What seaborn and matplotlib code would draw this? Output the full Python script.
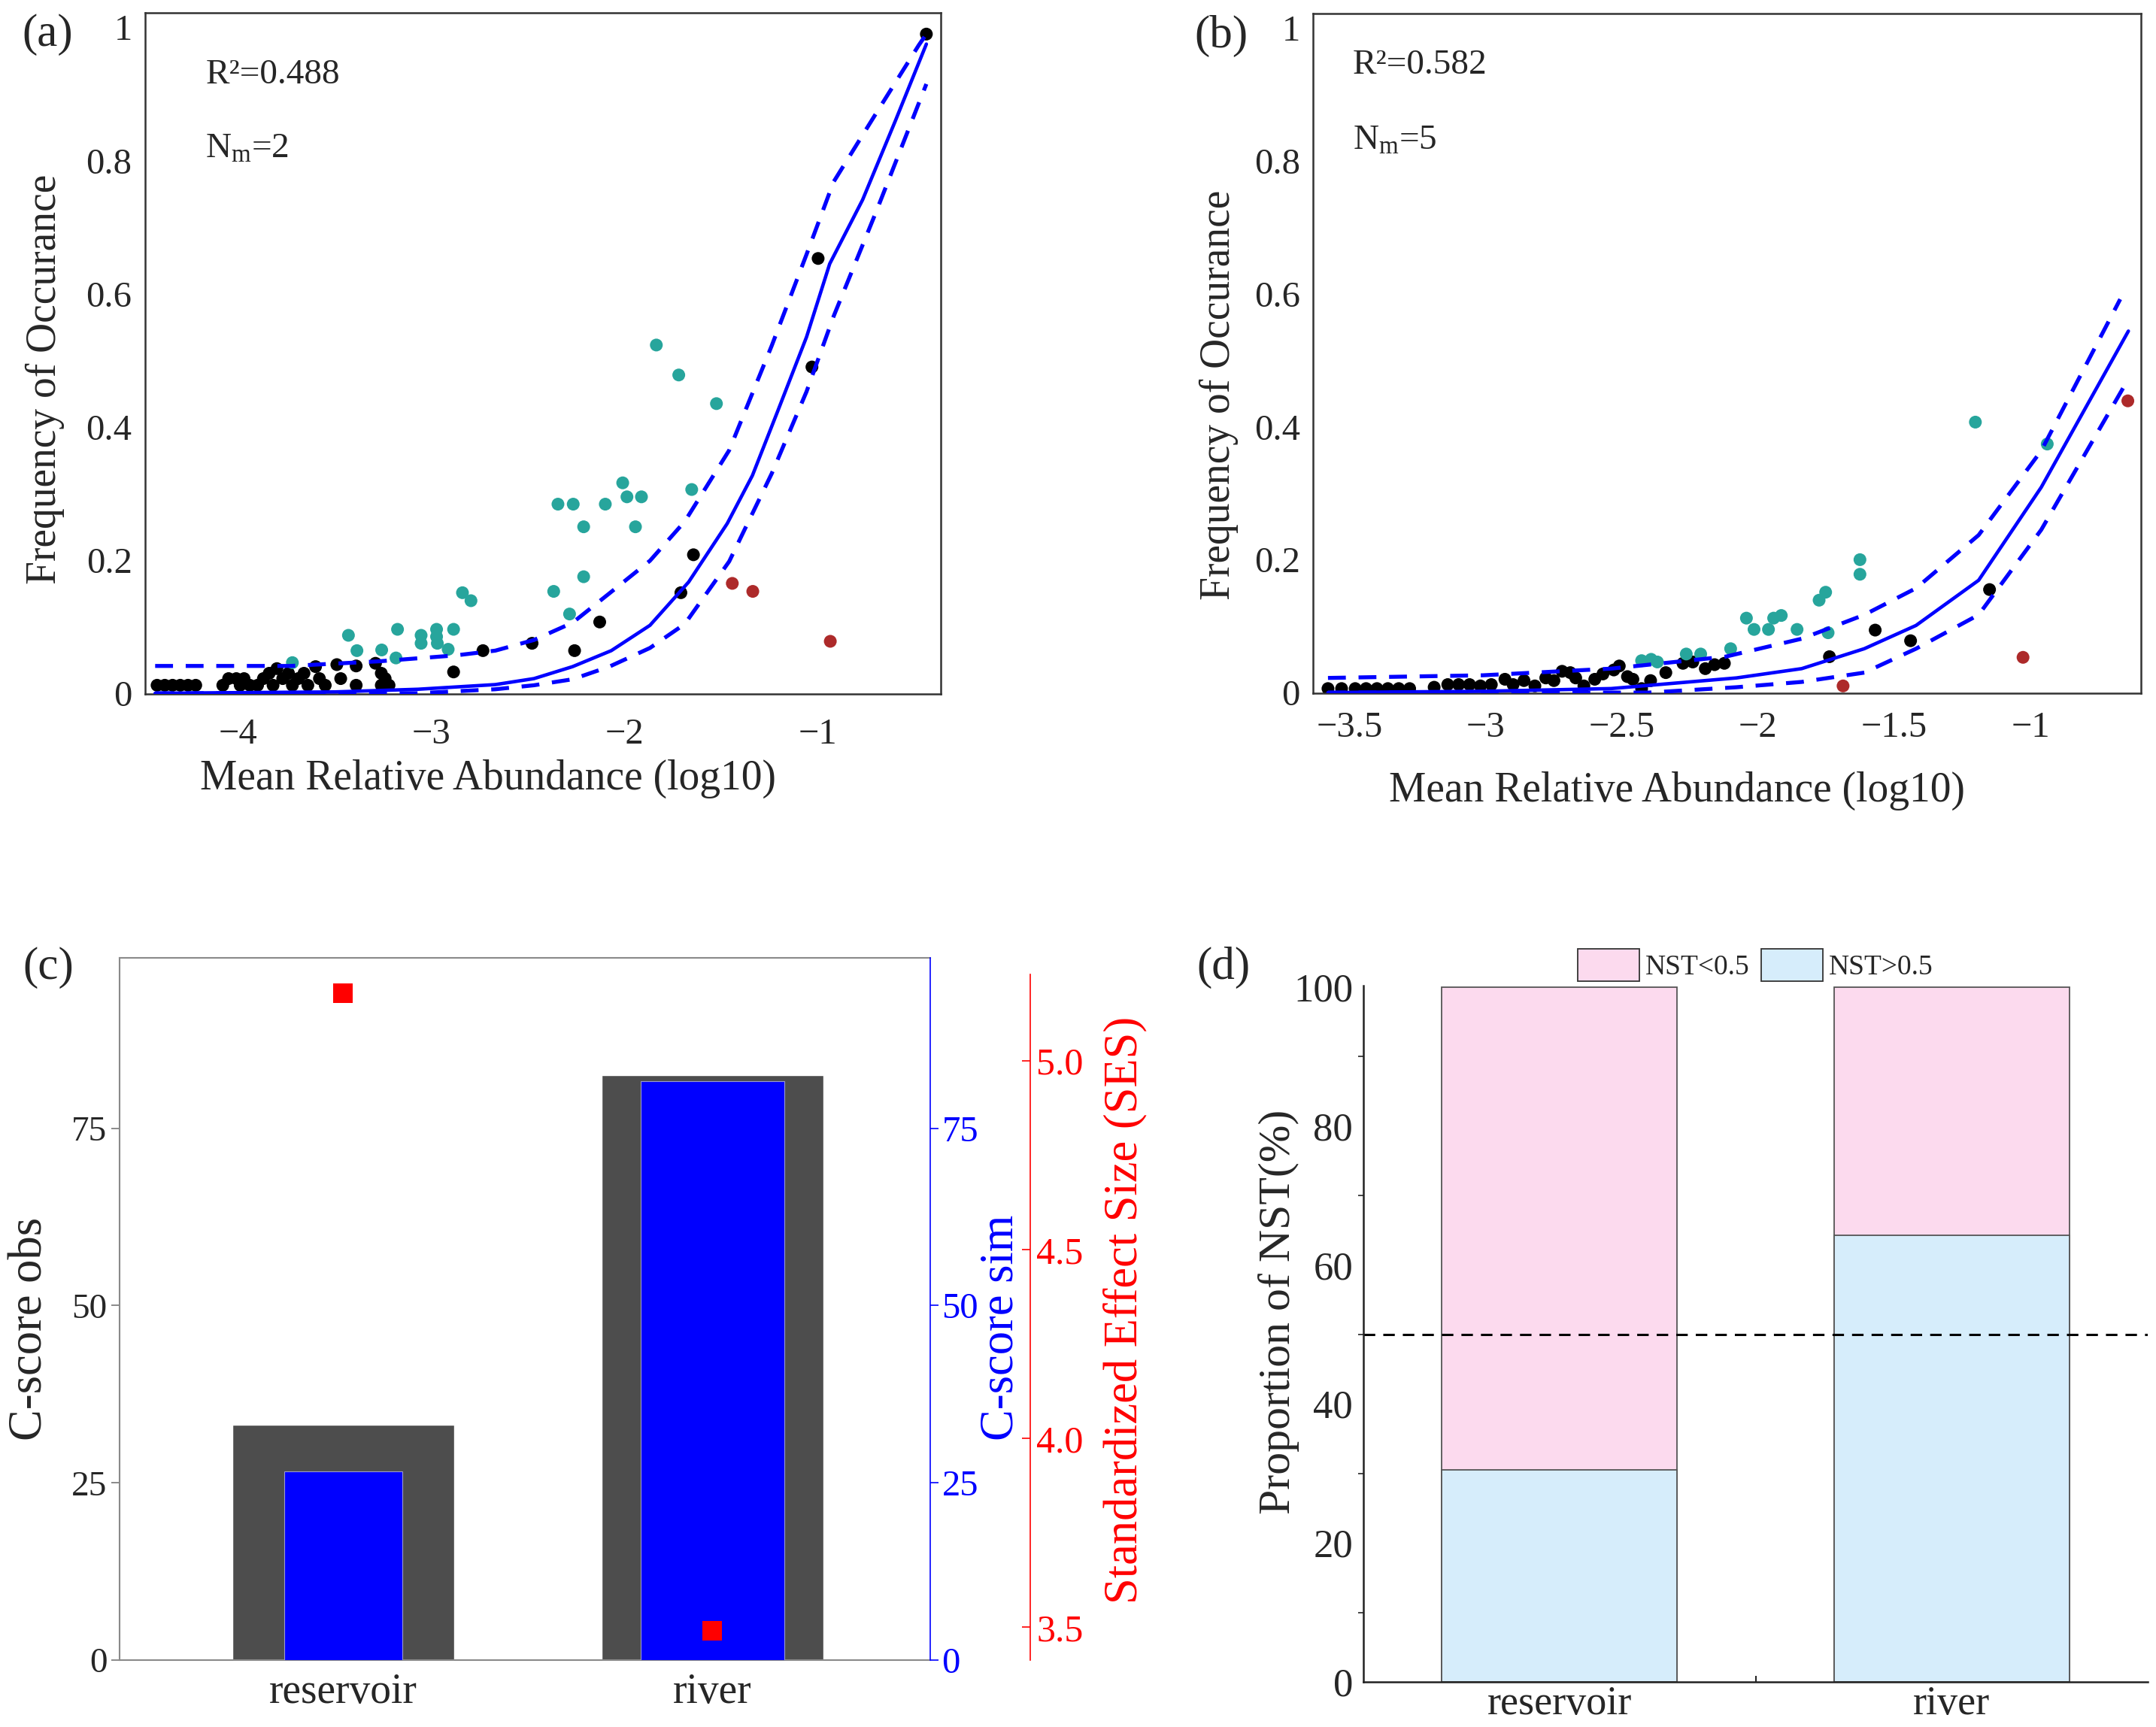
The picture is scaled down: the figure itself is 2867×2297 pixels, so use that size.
import matplotlib
matplotlib.use("Agg")
from matplotlib import pyplot as plt
from matplotlib.patches import Patch
from matplotlib.ticker import FuncFormatter, MultipleLocator
import numpy as np
import pandas as pd
import seaborn as sns

# ---- panel (a): reservoir neutral model ----
a_black_x = [-4.42, -4.38, -4.34, -4.30, -4.26, -4.22, -4.08, -4.05, -4.01, -3.97, -3.99, -3.94,
             -3.90, -3.87, -3.84, -3.82, -3.80, -3.77, -3.74, -3.72, -3.69, -3.66, -3.64,
             -3.60, -3.58, -3.55, -3.49, -3.47, -3.39, -3.39, -3.29, -3.26, -3.24, -3.26, -3.22,
             -2.886, -2.734, -2.48, -2.26, -2.13, -1.71, -1.645, -1.032, -1.0, -0.44]
a_black_y = [0.012, 0.012, 0.012, 0.012, 0.012, 0.012, 0.012, 0.022, 0.022, 0.022, 0.012, 0.012,
             0.012, 0.022, 0.030, 0.012, 0.037, 0.022, 0.030, 0.012, 0.022, 0.030, 0.012,
             0.040, 0.022, 0.012, 0.043, 0.022, 0.041, 0.012, 0.045, 0.030, 0.022, 0.012, 0.012,
             0.032, 0.064, 0.075, 0.064, 0.107, 0.151, 0.208, 0.490, 0.653, 0.990]
a_teal_x = [-3.72, -3.43, -3.386, -3.258, -3.176, -3.184, -3.054, -3.054, -2.974, -2.974, -2.97,
            -2.886, -2.914, -2.84, -2.796, -2.368, -2.286, -2.213, -2.346, -2.267, -2.213, -2.101,
            -2.011, -1.989, -1.914, -1.945, -1.654, -1.837, -1.721, -1.526]
a_teal_y = [0.046, 0.087, 0.064, 0.065, 0.096, 0.053, 0.087, 0.075, 0.096, 0.085, 0.075,
            0.096, 0.066, 0.151, 0.139, 0.153, 0.119, 0.175, 0.284, 0.284, 0.250, 0.284,
            0.316, 0.295, 0.295, 0.250, 0.306, 0.523, 0.478, 0.435]
a_red_x = [-1.444, -1.338, -0.937]
a_red_y = [0.165, 0.153, 0.078]

a_fit_x = [-4.43, -3.5, -3.07, -2.67, -2.47, -2.27, -2.07, -1.87, -1.67, -1.47, -1.34, -1.21,
           -1.06, -0.94, -0.77, -0.60, -0.44]
a_fit_y = [0.0, 0.002, 0.006, 0.013, 0.022, 0.040, 0.064, 0.102, 0.167, 0.255, 0.327, 0.423,
           0.535, 0.645, 0.741, 0.860, 0.975]
a_upper_x = [-4.43, -3.73, -3.27, -2.87, -2.67, -2.47, -2.27, -2.08, -1.87, -1.69, -1.46, -1.24,
             -1.06, -0.92, -0.70, -0.48, -0.44]
a_upper_y = [0.041, 0.041, 0.048, 0.057, 0.064, 0.080, 0.106, 0.150, 0.199, 0.258, 0.365, 0.522,
             0.659, 0.768, 0.871, 0.973, 0.990]
a_lower_x = [-4.43, -3.07, -2.87, -2.67, -2.47, -2.27, -2.08, -1.87, -1.69, -1.46, -1.24, -1.06,
             -0.92, -0.70, -0.44]
a_lower_y = [0.0, 0.0, 0.003, 0.006, 0.012, 0.021, 0.040, 0.068, 0.104, 0.198, 0.330, 0.453,
             0.566, 0.723, 0.915]

# ---- panel (b): river neutral model ----
b_black_x = [-3.58, -3.53, -3.48, -3.44, -3.40, -3.36, -3.32, -3.28, -3.19, -3.14, -3.10, -3.06,
             -3.02, -2.98, -2.93, -2.90, -2.86, -2.82, -2.78, -2.75, -2.72, -2.69, -2.67, -2.64,
             -2.60, -2.57, -2.53, -2.51, -2.48, -2.46, -2.428, -2.395, -2.339, -2.276, -2.24,
             -2.194, -2.16, -2.124, -1.738, -1.57, -1.44, -1.15]
b_black_y = [0.006, 0.006, 0.006, 0.006, 0.006, 0.006, 0.006, 0.006, 0.008, 0.012, 0.012, 0.012,
             0.010, 0.012, 0.020, 0.012, 0.018, 0.010, 0.022, 0.018, 0.032, 0.030, 0.022, 0.010,
             0.020, 0.028, 0.034, 0.040, 0.024, 0.020, 0.006, 0.018, 0.030, 0.044, 0.046,
             0.036, 0.042, 0.044, 0.054, 0.094, 0.078, 0.155]
b_teal_x = [-2.428, -2.393, -2.37, -2.264, -2.211, -2.101, -2.043, -2.015, -1.962, -1.943, -1.915,
            -1.857, -1.776, -1.752, -1.743, -1.626, -1.626, -1.202, -0.938]
b_teal_y = [0.048, 0.050, 0.046, 0.058, 0.058, 0.066, 0.112, 0.095, 0.095, 0.112, 0.116,
            0.095, 0.139, 0.151, 0.090, 0.200, 0.178, 0.407, 0.374]
b_red_x = [-1.688, -1.027, -0.642]
b_red_y = [0.010, 0.053, 0.439]

b_fit_x = [-3.58, -3.0, -2.54, -2.08, -1.84, -1.61, -1.42, -1.19, -0.96, -0.64]
b_fit_y = [0.0, 0.002, 0.006, 0.022, 0.036, 0.066, 0.101, 0.169, 0.309, 0.544]
b_upper_x = [-3.58, -3.01, -2.54, -2.12, -1.84, -1.61, -1.42, -1.19, -0.96, -0.67]
b_upper_y = [0.022, 0.026, 0.036, 0.054, 0.081, 0.117, 0.157, 0.237, 0.364, 0.592]
b_lower_x = [-3.58, -2.4, -2.08, -1.84, -1.61, -1.42, -1.19, -0.96, -0.64]
b_lower_y = [0.0, 0.0, 0.008, 0.016, 0.030, 0.066, 0.117, 0.245, 0.472]

# ---- panel (c): C-score ----
groups = ["reservoir", "river"]
c_obs = [33.2, 82.5]
c_sim = [26.6, 81.6]
ses = [5.18, 3.49]

# ---- panel (d): NST ----
nst_above = [30.5, 64.3]
nst_below = [69.5, 35.7]

TEAL = "#27a59c"
DOT_RED = "#ad2a2a"
PINK = "#fcdaee"
LIGHT_BLUE = "#d6edfb"


def minus(v, p):
    return f"{v:g}".replace("-", "\u2212")


def neutral_panel(ax, black, teal, red, fit, upper, lower, xlim, xticks, r2, nm, txt_pos):
    pts = pd.DataFrame({
        "x": black[0] + teal[0] + red[0],
        "y": black[1] + teal[1] + red[1],
        "group": ["in"] * len(black[0]) + ["above"] * len(teal[0]) + ["below"] * len(red[0]),
    })
    sns.scatterplot(data=pts, x="x", y="y", hue="group", ax=ax, s=150, linewidth=0,
                    palette={"in": "black", "above": TEAL, "below": DOT_RED}, legend=False,
                    zorder=2)
    sns.lineplot(x=fit[0], y=fit[1], ax=ax, color="#0000ff", lw=3.3, estimator=None, zorder=3)
    for xs, ys in (upper, lower):
        sns.lineplot(x=xs, y=ys, ax=ax, color="#0000ff", lw=3.8, estimator=None,
                     dashes=False, zorder=3).lines[-1].set_dashes([4.5, 3.2])
    ax.set_xlim(*xlim)
    ax.set_ylim(-0.001, 1.022)
    ax.set_xticks(xticks)
    ax.set_yticks([0, 0.2, 0.4, 0.6, 0.8, 1.0])
    ax.xaxis.set_major_formatter(FuncFormatter(minus))
    ax.yaxis.set_major_formatter(FuncFormatter(minus))
    for s in ax.spines.values():
        s.set_color("#333333")
        s.set_linewidth(1.8)
    ax.tick_params(axis="both", direction="out", length=9, width=1.6, labelsize=35,
                   color="#333333", top=False, right=False)
    ax.set_ylabel("Frequency of Occurance", fontsize=40, va="center")
    ax.set_xlabel("Mean Relative Abundance (log10)", fontsize=40)
    ax.text(txt_pos[0], txt_pos[1], r2, transform=ax.transAxes, fontsize=34, va="center")
    ax.text(txt_pos[0], txt_pos[2], nm, transform=ax.transAxes, fontsize=34, va="center")


def main():
    sns.set_style("white")
    plt.rcParams["font.family"] = ["Liberation Serif", "DejaVu Sans"]
    plt.rcParams["mathtext.fontset"] = "custom"
    plt.rcParams["mathtext.rm"] = "Liberation Serif"
    plt.rcParams["mathtext.it"] = "Liberation Serif:italic"
    plt.rcParams["axes.unicode_minus"] = True

    fig = plt.figure(figsize=(28.67, 22.97), dpi=100)

    # (a)
    ax_a = fig.add_axes([0.0673, 0.5982, 0.369, 0.3944])
    neutral_panel(ax_a, (a_black_x, a_black_y), (a_teal_x, a_teal_y), (a_red_x, a_red_y),
                  (a_fit_x, a_fit_y), (a_upper_x, a_upper_y), (a_lower_x, a_lower_y),
                  (-4.482, -0.366), [-4, -3, -2, -1], "R\u00b2=0.488", r"N$_{\mathrm{m}}$=2",
                  (0.076, 0.909, 0.80))
    ax_a.tick_params(axis="x", pad=14)
    ax_a.yaxis.set_label_coords(-0.126, 0.462)
    ax_a.xaxis.set_label_coords(0.431, -0.096)

    # (b)
    ax_b = fig.add_axes([0.609, 0.5986, 0.384, 0.3936])
    neutral_panel(ax_b, (b_black_x, b_black_y), (b_teal_x, b_teal_y), (b_red_x, b_red_y),
                  (b_fit_x, b_fit_y), (b_upper_x, b_upper_y), (b_lower_x, b_lower_y),
                  (-3.635, -0.594), [-3.5, -3, -2.5, -2, -1.5, -1], "R\u00b2=0.582",
                  r"N$_{\mathrm{m}}$=5", (0.048, 0.924, 0.812))
    ax_b.tick_params(axis="x", pad=8)
    ax_b.yaxis.set_label_coords(-0.114, 0.439)
    ax_b.xaxis.set_label_coords(0.44, -0.115)

    # (c)
    ax_c = fig.add_axes([0.0555, 0.0387, 0.376, 0.4066])
    pos = np.arange(len(groups))
    sns.barplot(x=groups, y=c_obs, color="#4d4d4d", saturation=1, width=0.6, ax=ax_c)
    ax_c.set_xlim(-0.605, 1.59)
    ax_c.set_ylim(0, 99)
    ax_c.set_yticks([0, 25, 50, 75])
    ax_c.tick_params(axis="y", direction="out", length=8, width=1.2, labelsize=34, pad=4,
                     color="#777777")
    ax_c.tick_params(axis="x", direction="out", length=8, width=1.2, labelsize=40, pad=4,
                     color="#777777")
    ax_c.set_ylabel("C-score obs", fontsize=45, va="center")
    ax_c.yaxis.set_label_coords(-0.110, 0.472)
    for side in ("left", "top", "bottom"):
        ax_c.spines[side].set_color("#8a8a8a")
        ax_c.spines[side].set_linewidth(1.5)
    ax_c.spines["right"].set_visible(False)

    ax_sim = ax_c.twinx()
    ax_sim.bar(pos, c_sim, width=[0.32, 0.39], color="#0000ff", edgecolor="#9a9ad0",
               linewidth=0.8, zorder=2)
    ax_sim.set_ylim(0, 99)
    ax_sim.set_yticks([0, 25, 50, 75])
    ax_sim.tick_params(axis="y", direction="out", length=8, width=1.2, labelsize=35,
                       colors="#0000ff", pad=3)
    for side in ("left", "top", "bottom"):
        ax_sim.spines[side].set_visible(False)
    ax_sim.spines["right"].set_color("#0000ff")
    ax_sim.spines["right"].set_linewidth(1.2)
    ax_c.text(1.088, 0.474, "C-score sim", transform=ax_c.transAxes, rotation=90,
              ha="center", va="center", fontsize=45, color="#0000ff")

    ax_ses = ax_c.twinx()
    sns.scatterplot(x=pos, y=ses, ax=ax_ses, marker="s", s=330, color="#ff0000", linewidth=0,
                    zorder=4)
    ax_ses.set_ylim(3.413, 5.273)
    ax_ses.set_yticks([3.5, 4.0, 4.5, 5.0])
    ax_ses.yaxis.set_major_formatter(FuncFormatter(lambda v, p: f"{v:.1f}"))
    for side in ("left", "top", "bottom"):
        ax_ses.spines[side].set_visible(False)
    ax_ses.spines["right"].set_position(("axes", 1.123))
    ax_ses.spines["right"].set_color("#ff0000")
    ax_ses.spines["right"].set_linewidth(1.2)
    ax_ses.spines["right"].set_bounds(3.413, 5.23)
    ax_ses.tick_params(axis="y", direction="in", length=8, width=1.2, labelsize=36,
                       colors="#ff0000", pad=6)
    ax_c.text(1.240, 0.499, "Standardized Effect Size (SES)", transform=ax_c.transAxes,
              rotation=90, ha="center", va="center", fontsize=45, color="#ff0000")

    # (d)
    ax_d = fig.add_axes([0.6324, 0.0261, 0.3638, 0.4031])
    totals = [a + b for a, b in zip(nst_above, nst_below)]
    sns.barplot(x=groups, y=totals, color=PINK, saturation=1, width=0.6, ax=ax_d,
                edgecolor="#555555", linewidth=1.3)
    sns.barplot(x=groups, y=nst_above, color=LIGHT_BLUE, saturation=1, width=0.6, ax=ax_d,
                edgecolor="#555555", linewidth=1.3)
    ax_d.axhline(50, color="black", ls=(0, (5, 3.5)), lw=2.2)
    ax_d.set_xlim(-0.5, 1.5)
    ax_d.set_ylim(0, 100.2)
    ax_d.set_yticks([0, 20, 40, 60, 80, 100])
    ax_d.yaxis.set_minor_locator(MultipleLocator(10))
    ax_d.set_xticks([0.5], minor=True)
    ax_d.tick_params(axis="y", which="major", direction="out", length=8, width=1.5,
                     labelsize=38, pad=2)
    ax_d.tick_params(axis="y", which="minor", direction="out", length=5, width=1.2, left=True)
    ax_d.tick_params(axis="x", which="both", direction="in", length=10, width=1.5,
                     labelsize=39, pad=3, bottom=True)
    ax_d.tick_params(axis="x", which="minor", length=6)
    ax_d.spines["top"].set_visible(False)
    ax_d.spines["right"].set_visible(False)
    for side in ("left", "bottom"):
        ax_d.spines[side].set_color("#222222")
        ax_d.spines[side].set_linewidth(1.8)
    ax_d.set_ylabel("Proportion of NST(%)", fontsize=43, va="center")
    ax_d.yaxis.set_label_coords(-0.108, 0.532)
    handles = [Patch(facecolor=PINK, edgecolor="#333333", linewidth=1.3, label="NST<0.5"),
               Patch(facecolor=LIGHT_BLUE, edgecolor="#333333", linewidth=1.3, label="NST>0.5")]
    ax_d.legend(handles=handles, loc="center", bbox_to_anchor=(0.4995, 1.030), ncol=2,
                frameon=False, fontsize=27, handlelength=2.2, handleheight=1.4,
                handletextpad=0.2, columnspacing=0.4, borderaxespad=0)

    # panel letters
    for label, x, y in (("(a)", 0.0101, 0.980), ("(b)", 0.554, 0.979),
                        ("(c)", 0.0105, 0.4397), ("(d)", 0.555, 0.4397)):
        fig.text(x, y, label, fontsize=44, va="center", ha="left")

    fig.savefig("out.png", dpi=100)


if __name__ == "__main__":
    main()
